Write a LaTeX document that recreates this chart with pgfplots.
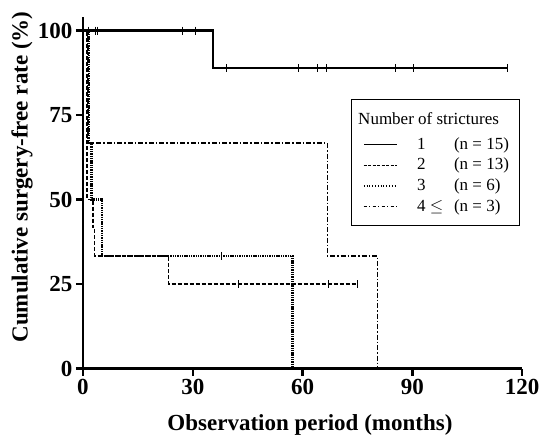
\documentclass[border=0pt]{standalone}
\usepackage{pgfplots}
\pgfplotsset{compat=1.18}
\usepackage{fontspec}
\setmainfont{Liberation Serif}
\begin{document}
\begin{tikzpicture}
\begin{axis}[
  scale only axis,
  width=439pt, height=351.5pt,
  xmin=0, xmax=120, ymin=0, ymax=104,
  axis lines=left,
  axis line style={line width=2.5pt, -},
  xtick={0,30,60,90,120},
  ytick={0,25,50,75,100},
  tick align=outside,
  major tick length=7pt,
  tick style={line width=2.5pt, black},
  /pgf/number format/assume math mode=true,
  ticklabel style={font=\bfseries\fontsize{23}{23}\selectfont},
  xlabel={Observation period (months)},
  ylabel={Cumulative surgery-free rate (\%)},
  xlabel style={font=\bfseries\fontsize{23}{23}\selectfont, at={(axis description cs:0.517,-0.161)}, anchor=center},
  ylabel style={font=\bfseries\fontsize{23}{23}\selectfont, at={(axis description cs:-0.139,0.545)}, anchor=center},
  clip=false,
]
% 1 stricture (n = 15)
\addplot[black, line width=2.2pt] coordinates {(0,100) (35.5,100) (35.5,88.9) (116.3,88.9)};
% 2 strictures (n = 13)
\addplot[black, line width=1.4pt, dash pattern=on 4pt off 2pt] coordinates {(0,100) (1.1,100) (1.1,50) (2.7,50) (2.7,41.7) (3.1,41.7) (3.1,33.3) (23.3,33.3) (23.3,25) (75,25)};
% 3 strictures (n = 6)
\addplot[black, line width=2.3pt, dash pattern=on 1.4pt off 0.9pt] coordinates {(0,100) (1.6,100) (1.6,66.7) (2.3,66.7) (2.3,50) (5.1,50) (5.1,33.3) (57.3,33.3) (57.3,0)};
% 4+ strictures (n = 3)
\addplot[black, line width=1.3pt, dash pattern=on 5pt off 2pt on 1.5pt off 2pt] coordinates {(0,100) (1.4,100) (1.4,66.7) (66.8,66.7) (66.8,33.3) (80.5,33.3) (80.5,0)};
% censored
\addplot[only marks, mark=|, mark size=4pt, mark options={line width=0.8pt, black}] coordinates {(1.4,100) (3.3,100) (3.8,100) (27.3,100) (30.6,100) (39.1,88.9) (59,88.9) (64.2,88.9) (66.4,88.9) (85.5,88.9) (90.2,88.9) (116.1,88.9)};
\addplot[only marks, mark=|, mark size=4pt, mark options={line width=0.8pt, black}] coordinates {(42.6,25) (67,25) (75,25)};
\addplot[only marks, mark=|, mark size=4pt, mark options={line width=0.8pt, black}] coordinates {(37.7,33.3)};
\coordinate (A) at (rel axis cs:0,0);
\coordinate (B) at (rel axis cs:1,1);
\node[draw, line width=0.9pt, anchor=north west, inner xsep=0pt, inner ysep=8pt, font=\fontsize{17}{19.5}\selectfont] at (axis cs:73.2,79.7) {%
\def\arraystretch{1.06}%
\begin{tabular}{@{\hspace{12pt}}l@{\hspace{19pt}}p{37pt}@{}l@{\hspace{10pt}}}
\multicolumn{3}{@{\hspace{7pt}}l@{\hspace{10pt}}}{\rule{0pt}{17pt}Number of strictures}\\[4pt]
\tikz[baseline=-0.6ex]\draw[line width=1.8pt] (0,0)--(33pt,0); & 1 & (n = 15)\\
\tikz[baseline=-0.6ex]\draw[line width=1pt, dash pattern=on 3pt off 1.5pt] (0,0)--(33pt,0); & 2 & (n = 13)\\
\tikz[baseline=-0.6ex]\draw[line width=1.2pt, dash pattern=on 1pt off 1.8pt] (0,0)--(33pt,0); & 3 & (n = 6)\\
\tikz[baseline=-0.6ex]\draw[line width=1pt, dash pattern=on 3pt off 2.5pt on 1pt off 2.5pt] (0,0)--(33pt,0); & 4 $\leq$ & (n = 3)
\end{tabular}};
\end{axis}
\pgfresetboundingbox
\path[use as bounding box] ([xshift=-83pt,yshift=-71.5pt]A) rectangle ([xshift=18pt,yshift=17pt]B);
\end{tikzpicture}
\end{document}
